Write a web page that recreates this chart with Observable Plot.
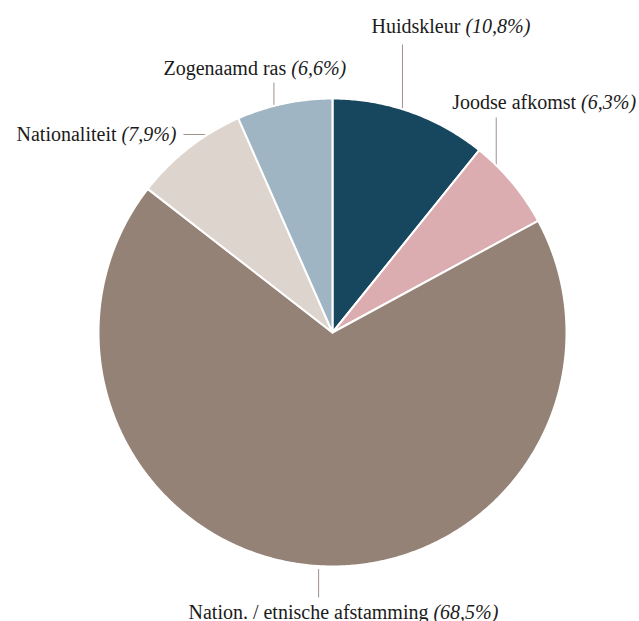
<!DOCTYPE html>
<html><head><meta charset="utf-8">
<script src="https://cdn.jsdelivr.net/npm/d3@7"></script>
<script src="https://cdn.jsdelivr.net/npm/@observablehq/plot@0.6"></script>
<style>html,body{margin:0;padding:0;background:#fff;overflow:hidden}</style>
</head><body><div id="chart"></div>
<script>
// ---- data ----
const categories = ["Huidskleur", "Joodse afkomst", "Nation. / etnische afstamming", "Nationaliteit", "Zogenaamd ras"];
const shares = [10.8, 6.3, 68.5, 7.9, 6.6];
const shareLabels = ["(10,8%)", "(6,3%)", "(68,5%)", "(7,9%)", "(6,6%)"];
const colors = ["#17475f", "#dbadb0", "#958276", "#ddd4ce", "#a0b5c4"];

// ---- layout ----
const W = 639, H = 621, cx = 332, cy = 332, R = 234;
const leaderAngle = [17.4, 44.4, 183.4, 327.8, 345.5];
const leaderDir = ["up", "up", "down", "left", "up"];
const leaderEnd = [44, 117, 597, 183, 82];
const labelAnchor = [["start", 371, 32], ["start", 451.7, 108], ["start", 188, 618], ["end", 176, 140], ["start", 163, 74]];
const FONT = "'Liberation Serif', serif";
const FS = 20;

const rad = d => d * Math.PI / 180;
const px = (a, r) => cx + r * Math.sin(rad(a));
const py = (a, r) => cy - r * Math.cos(rad(a));

// pie polygons
const total = d3.sum(shares);
const slices = [];
let acc = 0;
categories.forEach((name, i) => {
  const a0 = acc / total * 360, a1 = (acc + shares[i]) / total * 360;
  acc += shares[i];
  slices.push({name, x: cx, y: cy});
  const n = Math.max(2, Math.ceil((a1 - a0) / 0.5));
  for (let k = 0; k <= n; k++) {
    const a = a0 + (a1 - a0) * k / n;
    slices.push({name, x: px(a, R), y: py(a, R)});
  }
});

// leader lines
const leaders = categories.map((name, i) => {
  const a = leaderAngle[i];
  const x1 = px(a, R), y1 = py(a, R);
  if (leaderDir[i] === "up") return {x1, y1, x2: x1, y2: leaderEnd[i]};
  if (leaderDir[i] === "down") return {x1, y1: y1 + 3, x2: x1, y2: leaderEnd[i]};
  return {x1: x1 - 3, y1, x2: leaderEnd[i], y2: y1};
});

// text measurement
const ctx = document.createElement("canvas").getContext("2d");
const measure = (t, italic) => { ctx.font = `${italic ? "italic " : ""}${FS}px ${FONT}`; return ctx.measureText(t).width; };
const labels = categories.map((name, i) => {
  const [anchor, ax, ay] = labelAnchor[i];
  const wName = measure(name + " ", false);
  const wPct = measure(shareLabels[i], true);
  const start = anchor === "start" ? ax : ax - wName - wPct;
  return {name, pct: shareLabels[i], x: start, xp: start + wName, y: ay};
});

const chart = Plot.plot({
  width: W, height: H, margin: 0,
  x: {domain: [0, W], range: [0, W], axis: null},
  y: {domain: [0, H], range: [0, H], axis: null},
  color: {type: "ordinal", domain: categories, range: colors},
  style: {background: "#fff", fontFamily: FONT},
  marks: [
    Plot.link(leaders, {x1: "x1", y1: "y1", x2: "x2", y2: "y2", stroke: "#a09189", strokeWidth: 1}),
    Plot.line(slices, {x: "x", y: "y", z: "name", fill: "name", stroke: "#fff", strokeWidth: 2, curve: "linear-closed", strokeLinejoin: "round"}),
    Plot.text(labels, {x: "x", y: "y", text: "name", textAnchor: "start", lineAnchor: "bottom", fontSize: FS, fontFamily: FONT, fill: "#1b1b1b"}),
    Plot.text(labels, {x: "xp", y: "y", text: "pct", textAnchor: "start", lineAnchor: "bottom", fontSize: FS, fontFamily: FONT, fontStyle: "italic", fill: "#1b1b1b"})
  ]
});
document.getElementById("chart").appendChild(chart);
</script>
</body></html>
